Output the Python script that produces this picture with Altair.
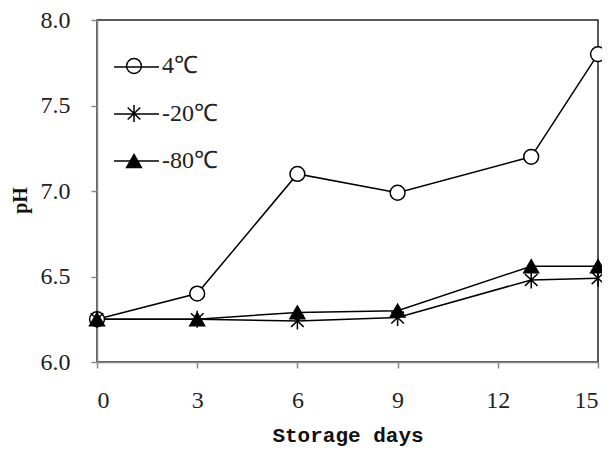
import altair as alt
import pandas as pd

days = [0, 3, 6, 9, 13, 15]
ph_4 = [6.25, 6.40, 7.10, 6.99, 7.20, 7.80]
ph_m20 = [6.25, 6.25, 6.24, 6.26, 6.48, 6.49]
ph_m80 = [6.25, 6.25, 6.29, 6.30, 6.56, 6.56]
series_names = ["4℃", "-20℃", "-80℃"]
x_ticks = [0, 3, 6, 9, 12, 15]
y_ticks = [6.0, 6.5, 7.0, 7.5, 8.0]

rows = []
for name, vals in zip(series_names, [ph_4, ph_m20, ph_m80]):
    for d, v in zip(days, vals):
        rows.append({"day": d, "ph": v, "series": name, "line_series": name})
df = pd.DataFrame(rows)

star = "M0,-1.15L0,1.15M-0.85,-0.8L0.85,0.8M0.85,-0.8L-0.85,0.8"
lab_font = "Liberation Serif"

x = alt.X("day:Q", scale=alt.Scale(domain=[0, 15], nice=False),
          axis=alt.Axis(values=x_ticks, title="Storage days", grid=False,
                        labelPadding=20, tickSize=6, tickColor="#888", domainColor="#888",
                        domainWidth=1.5, tickWidth=1.5,
                        titleFont="Liberation Mono", titleFontSize=21, titleFontWeight="bold",
                        titleColor="#111", titleY=73, titleBaseline="middle"))
y = alt.Y("ph:Q", scale=alt.Scale(domain=[6.0, 8.0], nice=False, zero=False),
          axis=alt.Axis(values=y_ticks, format=".1f", title="pH", grid=False,
                        labelPadding=21, tickSize=6, tickColor="#888", domainColor="#888",
                        domainWidth=1.5, tickWidth=1.5,
                        titleFont=lab_font, titleFontSize=20, titleFontWeight="bold",
                        titleColor="#111", titleX=-77, titleY=180, titleBaseline="middle",
                        titleAlign="center"))

lines = alt.Chart(df).mark_line(strokeWidth=1.5).encode(
    x=x, y=y, detail="series:N",
    color=alt.Color("line_series:N",
                    scale=alt.Scale(domain=series_names, range=["black"] * 3),
                    legend=alt.Legend(orient="none", legendX=16, legendY=23.5, title=None,
                                      symbolType="stroke", symbolSize=2025,
                                      symbolStrokeWidth=1.5, labelExpr="''",
                                      rowPadding=11, padding=0)),
)

leg_pts = dict(orient="none", legendX=25, legendY=34, title=None,
               symbolStrokeWidth=1.5, symbolSize=220,
               labelOffset=16, rowPadding=23.5, padding=0)

points = alt.Chart(df).mark_point(size=220, strokeWidth=1.5,
                                  opacity=1, fillOpacity=1).encode(
    x=x, y=y,
    shape=alt.Shape("series:N",
                    scale=alt.Scale(domain=series_names, range=["circle", star, "triangle-up"]),
                    legend=alt.Legend(**leg_pts)),
    fill=alt.Fill("series:N",
                  scale=alt.Scale(domain=series_names, range=["white", "black", "black"]),
                  legend=alt.Legend(**leg_pts)),
    stroke=alt.Stroke("series:N",
                      scale=alt.Scale(domain=series_names, range=["black", "black", "black"]),
                      legend=alt.Legend(**leg_pts)),
)

chart = alt.layer(lines, points).resolve_scale(color="independent").properties(
    width=501, height=342,
    autosize=alt.AutoSizeParams(type="none"),
    padding={"left": 89, "top": 12, "right": 4, "bottom": 85},
).configure_view(stroke="#222", strokeWidth=1.5).configure_axis(
    labelFont=lab_font, labelFontSize=24, labelColor="#222"
).configure_legend(
    labelFont=lab_font, labelFontSize=24, labelColor="#222"
)

chart.save("out.html", embed_options={"renderer": "svg", "actions": False})
